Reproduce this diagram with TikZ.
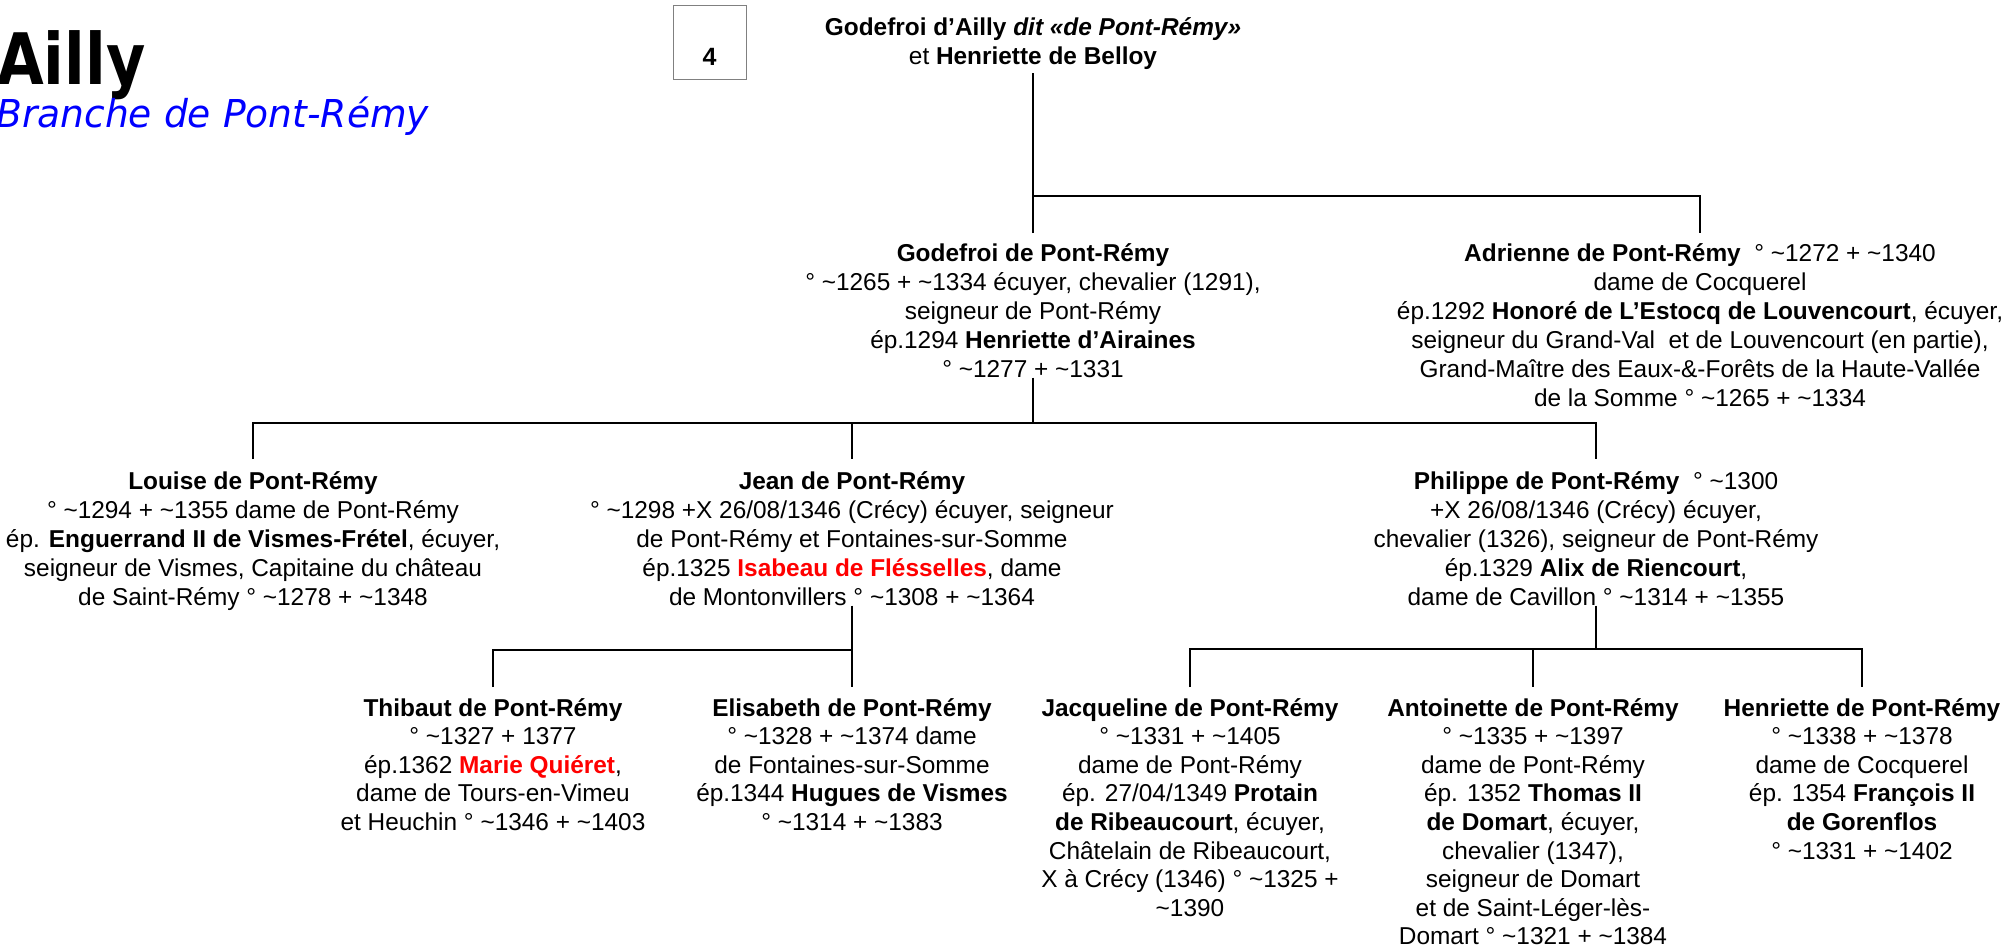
\documentclass[tikz,border=0pt]{standalone}
\usepackage{fontspec}
\setmainfont{Liberation Sans}
\newfontfamily\ttlfont[FakeStretch=0.85]{DejaVu Sans}
\newfontfamily\subfont[FakeStretch=0.98]{DejaVu Sans}
\newcommand\tld{\textasciitilde}
\begin{document}
\begin{tikzpicture}[x=1pt,y=-1pt]
\tikzset{
  person/.style={anchor=north, align=center, inner sep=0pt, outer sep=0pt,
    font=\fontsize{24.4}{29}\selectfont},
  child/.style={person, font=\fontsize{24.4}{28.6}\selectfont},
  link/.style={line width=2.4pt, draw=black},
}
\useasboundingbox (0,0) rectangle (2003,948);

% title
\node[anchor=base west, inner sep=0pt, font=\ttlfont\bfseries\fontsize{71}{80}\selectfont] (ttl) at (-3,84) {Ailly};
\node[anchor=base west, inner sep=0pt, text=blue, font=\subfont\itshape\fontsize{38.4}{44}\selectfont] (sub) at (-4,127) {Branche de Pont-Rémy};

% page number box
\node[draw=gray, line width=1pt, minimum width=73pt, minimum height=74pt, inner sep=0pt,
      text height=46pt, text depth=0pt, font=\bfseries\fontsize{25}{30}\selectfont] (box) at (709.5,42) {4};

% people
\node[person] (T) at (1033,15) {\strut\textbf{Godefroi d’Ailly \textit{dit «de Pont-Rémy»}}\\
  et \textbf{Henriette de Belloy}};

\node[person] (G) at (1033,241) {\strut\textbf{Godefroi de Pont-Rémy}\\
  ° \tld1265 + \tld1334 écuyer, chevalier (1291),\\
  seigneur de Pont-Rémy\\
  ép.1294 \textbf{Henriette d’Airaines}\\
  ° \tld1277 + \tld1331};

\node[person] (A) at (1700,241) {\strut\textbf{Adrienne de Pont-Rémy}\ \ ° \tld1272 + \tld1340\\
  dame de Cocquerel\\
  ép.1292 \textbf{Honoré de L’Estocq de Louvencourt}, écuyer,\\
  seigneur du Grand-Val\ \ et de Louvencourt (en partie),\\
  Grand-Maître des Eaux-\&-Forêts de la Haute-Vallée\\
  de la Somme ° \tld1265 + \tld1334};

\node[person] (L) at (253,469) {\strut\textbf{Louise de Pont-Rémy}\\
  ° \tld1294 + \tld1355 dame de Pont-Rémy\\
  ép. \textbf{Enguerrand II de Vismes-Frétel}, écuyer,\\
  seigneur de Vismes, Capitaine du château\\
  de Saint-Rémy ° \tld1278 + \tld1348};

\node[person] (J) at (852,469) {\strut\textbf{Jean de Pont-Rémy}\\
  ° \tld1298 +X 26/08/1346 (Crécy) écuyer, seigneur\\
  de Pont-Rémy et Fontaines-sur-Somme\\
  ép.1325 \textcolor{red}{\textbf{Isabeau de Flésselles}}, dame\\
  de Montonvillers ° \tld1308 + \tld1364};

\node[person] (P) at (1596,469) {\strut\textbf{Philippe de Pont-Rémy}\ \ ° \tld1300\\
  +X 26/08/1346 (Crécy) écuyer,\\
  chevalier (1326), seigneur de Pont-Rémy\\
  ép.1329 \textbf{Alix de Riencourt},\\
  dame de Cavillon ° \tld1314 + \tld1355};

\node[child] (Th) at (493,696) {\strut\textbf{Thibaut de Pont-Rémy}\\
  ° \tld1327 + 1377\\
  ép.1362 \textcolor{red}{\textbf{Marie Quiéret}},\\
  dame de Tours-en-Vimeu\\
  et Heuchin ° \tld1346 + \tld1403};

\node[child] (E) at (852,696) {\strut\textbf{Elisabeth de Pont-Rémy}\\
  ° \tld1328 + \tld1374 dame\\
  de Fontaines-sur-Somme\\
  ép.1344 \textbf{Hugues de Vismes}\\
  ° \tld1314 + \tld1383};

\node[child] (Jq) at (1190,696) {\strut\textbf{Jacqueline de Pont-Rémy}\\
  ° \tld1331 + \tld1405\\
  dame de Pont-Rémy\\
  ép. 27/04/1349 \textbf{Protain}\\
  \textbf{de Ribeaucourt}, écuyer,\\
  Châtelain de Ribeaucourt,\\
  X à Crécy (1346) ° \tld1325 +\\
  \tld1390};

\node[child] (An) at (1533,696) {\strut\textbf{Antoinette de Pont-Rémy}\\
  ° \tld1335 + \tld1397\\
  dame de Pont-Rémy\\
  ép. 1352 \textbf{Thomas II}\\
  \textbf{de Domart}, écuyer,\\
  chevalier (1347),\\
  seigneur de Domart\\
  et de Saint-Léger-lès-\\
  Domart ° \tld1321 + \tld1384};

\node[child] (H) at (1862,696) {\strut\textbf{Henriette de Pont-Rémy}\\
  ° \tld1338 + \tld1378\\
  dame de Cocquerel\\
  ép. 1354 \textbf{François II}\\
  \textbf{de Gorenflos}\\
  ° \tld1331 + \tld1402};

% bar levels
\coordinate (y1) at (0,196);
\coordinate (y2) at (0,423);
\coordinate (y3) at (0,650);
\coordinate (y4) at (0,649);

% connectors
\draw[link, shorten <=4pt] (T.south) -- (T.south |- y1);
\draw[link, shorten <=8pt, shorten >=8pt] (G.north) -- (G.north |- y1) -- (A.north |- y1) -- (A.north);

\draw[link] (G.south) -- (G.south |- y2);
\draw[link, shorten <=10pt, shorten >=10pt] (L.north) -- (L.north |- y2) -- (P.north |- y2) -- (P.north);
\draw[link, shorten >=10pt] (J.north |- y2) -- (J.north);

\draw[link] (J.south) -- (J.south |- y3);
\draw[link, shorten <=9pt, shorten >=9pt] (Th.north) -- (Th.north |- y3) -- (E.north |- y3) -- (E.north);

\draw[link] (P.south) -- (P.south |- y4);
\draw[link, shorten <=9pt, shorten >=9pt] (Jq.north) -- (Jq.north |- y4) -- (H.north |- y4) -- (H.north);
\draw[link, shorten >=9pt] (An.north |- y4) -- (An.north);
\end{tikzpicture}
\end{document}
